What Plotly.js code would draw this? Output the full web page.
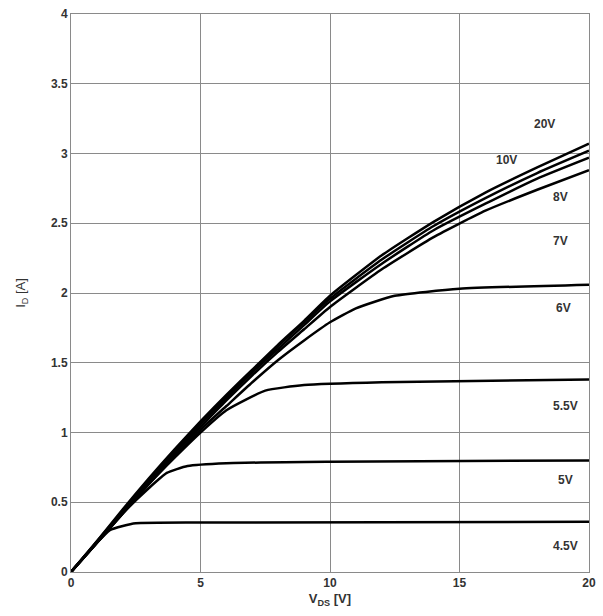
<!DOCTYPE html>
<html>
<head>
<meta charset="utf-8">
<script src="https://cdn.plot.ly/plotly-3.0.1.min.js"></script>
<style>html,body{margin:0;padding:0;background:#fff;}#chart{width:603px;height:616px;}</style>
</head>
<body>
<div id="chart"></div>
<script>
// V_GS curves: V_DS (x) and I_D (y)
const x20 = [0,1,2,3,4,5,6,7,8,9,10,12,14,16,18,20];
const y20 = [0,0.22,0.45,0.67,0.88,1.08,1.27,1.45,1.63,1.80,1.98,2.27,2.51,2.72,2.90,3.07];
const x10 = [0,1,2,3,4,5,6,7,8,9,10,12,14,16,18,20];
const y10 = [0,0.22,0.44,0.66,0.87,1.07,1.26,1.44,1.62,1.79,1.96,2.24,2.48,2.68,2.86,3.02];
const x8 = [0,1,2,3,4,5,6,7,8,9,10,12,14,16,18,20];
const y8 = [0,0.21,0.43,0.65,0.86,1.06,1.25,1.43,1.60,1.77,1.94,2.21,2.45,2.64,2.82,2.97];
const x7 = [0,1,2,3,4,5,6,7,8,9,10,12,14,16,18,20];
const y7 = [0,0.21,0.43,0.64,0.85,1.04,1.23,1.41,1.58,1.74,1.90,2.17,2.40,2.59,2.74,2.88];
const x6 = [0,1,2,3,4,5,6,7,8,9,10,11,12.5,15,20];
const y6 = [0,0.21,0.42,0.63,0.83,1.02,1.19,1.36,1.52,1.66,1.79,1.89,1.98,2.03,2.06];
const x55 = [0,1,2,3,4,5,6,7.5,9,12,20];
const y55 = [0,0.21,0.42,0.63,0.82,1.00,1.16,1.30,1.34,1.36,1.38];
const x5 = [0,1,2,3,3.7,4.5,6,10,20];
const y5 = [0,0.21,0.42,0.60,0.71,0.76,0.78,0.79,0.80];
const x45 = [0,1,1.5,2,2.5,5,20];
const y45 = [0,0.21,0.30,0.33,0.35,0.355,0.36];

const curveLabels = ["20V","10V","8V","7V","6V","5.5V","5V","4.5V"];
const labelX = [18.3,16.8,18.9,18.9,19.0,19.1,19.1,19.1];
const labelY = [3.21,2.95,2.69,2.37,1.89,1.19,0.66,0.19];

const xTicks = [0,5,10,15,20];
const yTicks = [0,0.5,1,1.5,2,2.5,3,3.5,4];

const series = [[x20,y20],[x10,y10],[x8,y8],[x7,y7],[x6,y6],[x55,y55],[x5,y5],[x45,y45]];
const traces = series.map((s,i) => ({
  x: s[0], y: s[1], type: 'scatter', mode: 'lines',
  line: {color: '#000', width: 2.5, shape: 'spline', smoothing: 0.5},
  name: curveLabels[i], showlegend: false, hoverinfo: 'skip'
}));

const annotations = curveLabels.map((t,i) => ({
  x: labelX[i], y: labelY[i], xref: 'x', yref: 'y', text: t, showarrow: false,
  font: {family: 'Liberation Sans, Arial, sans-serif', size: 12, color: '#333', weight: 'bold'}
}));

const axisCommon = {
  showgrid: true, gridcolor: '#8a8a8a', gridwidth: 1,
  showline: true, linecolor: '#8a8a8a', linewidth: 1, mirror: true,
  zeroline: false, ticks: '',
  tickfont: {family: 'Liberation Sans, Arial, sans-serif', size: 12, color: '#333', weight: 'bold'}
};

const layout = {
  width: 603, height: 616,
  margin: {l: 71, r: 14, t: 14, b: 44},
  paper_bgcolor: '#fff', plot_bgcolor: '#fff',
  showlegend: false,
  xaxis: Object.assign({}, axisCommon, {
    range: [0, 20], tickvals: xTicks,
    title: {text: 'V<sub>DS</sub> [V]', standoff: 4,
      font: {family: 'Liberation Sans, Arial, sans-serif', size: 13, color: '#333', weight: 'bold'}}
  }),
  yaxis: Object.assign({}, axisCommon, {
    range: [0, 4], tickvals: yTicks,
    title: {text: 'I<sub>D</sub> [A]', standoff: 22,
      font: {family: 'Liberation Sans, Arial, sans-serif', size: 13, color: '#333'}}
  }),
  annotations: annotations
};

Plotly.newPlot('chart', traces, layout, {displayModeBar: false, staticPlot: true});
</script>
</body>
</html>
